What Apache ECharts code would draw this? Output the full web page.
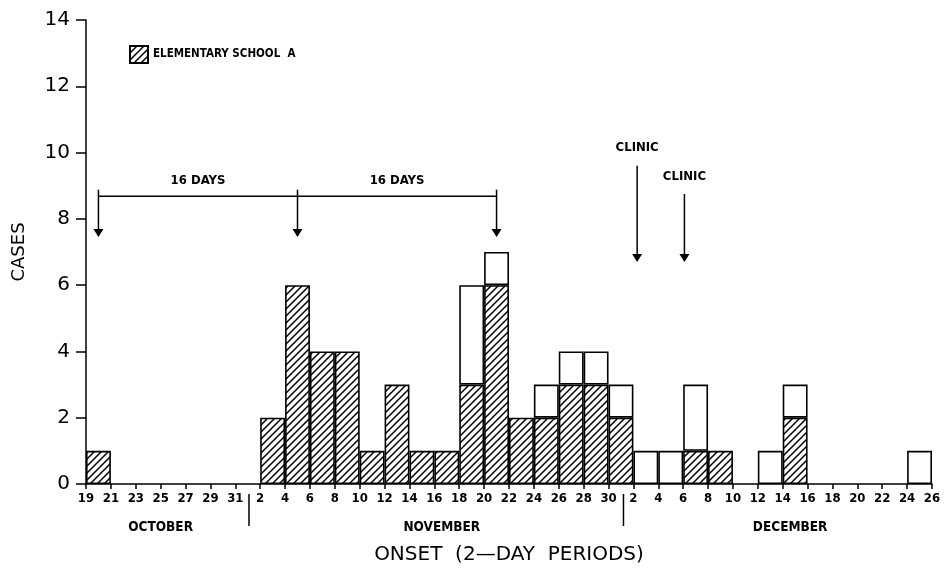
<!DOCTYPE html>
<html>
<head>
<meta charset="utf-8">
<script src="https://cdn.jsdelivr.net/npm/echarts@6/dist/echarts.min.js"></script>
<style>
  html, body { margin: 0; padding: 0; background: #fff; }
  #chart { width: 945px; height: 570px; }
</style>
</head>
<body>
<div id="chart"></div>
<script>
// tick labels sit on the boundaries of the 2-day periods
const tickLabels = ['19', '21', '23', '25', '27', '29', '31',
  '2', '4', '6', '8', '10', '12', '14', '16', '18', '20', '22', '24', '26', '28', '30',
  '2', '4', '6', '8', '10', '12', '14', '16', '18', '20', '22', '24', '26']
// one period per gap between two ticks (34 periods)
const periods = tickLabels.slice(0, -1).map((t, i) => t + '-' + tickLabels[i + 1])
const schoolA = [1, 0, 0, 0, 0, 0, 0, 2, 6, 4, 4, 1, 3, 1, 1, 3, 6, 2, 2, 3, 3, 2,
  0, 0, 1, 1, 0, 0, 2, 0, 0, 0, 0, 0]
const otherCases = [0, 0, 0, 0, 0, 0, 0, 0, 0, 0, 0, 0, 0, 0, 0, 3, 1, 0, 1, 1, 1, 1,
  1, 1, 2, 0, 0, 1, 1, 0, 0, 0, 0, 1]
// annotations in axis units (x = period boundary index, y = cases)
const dayArrows = [0.5, 8.5, 16.5]
const dayLabels = [{ x: 4.5, text: '16 DAYS' }, { x: 12.5, text: '16 DAYS' }]
const clinicArrows = [{ x: 22.15, top: 9.6, label: 10.15 }, { x: 24.05, top: 8.75, label: 9.28 }]
const months = [{ x: 3, text: 'OCTOBER' }, { x: 14.3, text: 'NOVEMBER' }, { x: 28.3, text: 'DECEMBER' }]
const monthDividers = [6.55, 21.6]

const narrow = '"Liberation Sans Narrow", "DejaVu Sans Condensed", "Liberation Sans", sans-serif'

// diagonal hatch
const hatch = document.createElement('canvas')
hatch.width = 7
hatch.height = 7
const hc = hatch.getContext('2d')
hc.fillStyle = '#fff'
hc.fillRect(0, 0, 7, 7)
hc.strokeStyle = '#000'
hc.lineWidth = 1.5
hc.beginPath()
hc.moveTo(0, 7); hc.lineTo(7, 0)
hc.moveTo(-1, 1); hc.lineTo(1, -1)
hc.moveTo(6, 8); hc.lineTo(8, 6)
hc.stroke()

const myChart = echarts.init(document.getElementById('chart'))
const option = {
  animation: false,
  backgroundColor: '#fff',
  grid: { left: 86, right: 13, top: 20, bottom: 84 },
  legend: {
    left: 124,
    top: 40,
    data: ['ELEMENTARY SCHOOL  A'],
    itemWidth: 18,
    itemHeight: 17,
    itemGap: 8,
    icon: 'rect',
    textStyle: { fontFamily: narrow, fontWeight: 'bold', fontSize: 11.5, color: '#000' }
  },
  xAxis: [
    { type: 'category', data: periods, show: false, boundaryGap: true },
    {
      type: 'value', min: 0, max: 34, interval: 1, position: 'bottom',
      axisLine: { show: true, lineStyle: { color: '#000', width: 1.5 } },
      axisTick: { show: true, length: 5, lineStyle: { color: '#000', width: 1.5 } },
      axisLabel: {
        show: true, margin: 8, color: '#000', fontFamily: narrow, fontWeight: 'bold', fontSize: 13,
        formatter: v => tickLabels[v]
      },
      splitLine: { show: false },
      name: 'ONSET  (2—DAY  PERIODS)',
      nameLocation: 'middle',
      nameGap: 61,
      nameTextStyle: { fontFamily: 'DejaVu Sans', fontSize: 20, color: '#000' }
    }
  ],
  yAxis: {
    type: 'value', min: 0, max: 14, interval: 2,
    axisLine: { show: true, lineStyle: { color: '#000', width: 1.5 } },
    axisTick: { show: true, length: 10, lineStyle: { color: '#000', width: 1.5 } },
    axisLabel: { color: '#000', fontFamily: 'DejaVu Sans', fontSize: 20, margin: 16 },
    splitLine: { show: false },
    name: 'CASES',
    nameLocation: 'middle',
    nameGap: 58,
    nameTextStyle: { fontFamily: 'DejaVu Sans', fontSize: 18, color: '#000' }
  },
  series: [
    {
      name: 'ELEMENTARY SCHOOL  A',
      type: 'bar',
      stack: 'total',
      xAxisIndex: 0,
      barCategoryGap: '0%',
      data: schoolA.map(v => v || null),
      itemStyle: { color: { image: hatch, repeat: 'repeat' }, borderColor: '#000', borderWidth: 1.6 }
    },
    {
      name: 'OTHER',
      type: 'bar',
      stack: 'total',
      xAxisIndex: 0,
      barCategoryGap: '0%',
      data: otherCases.map(v => v || null),
      itemStyle: { color: '#fff', borderColor: '#000', borderWidth: 1.6 }
    }
  ]
}
myChart.setOption(option)

// annotations placed through the axes
const px = x => myChart.convertToPixel({ xAxisIndex: 1 }, x)
const py = y => myChart.convertToPixel({ yAxisIndex: 0 }, y)
const base = py(0)
const line = (x1, y1, x2, y2, w) => ({
  type: 'line', shape: { x1, y1, x2, y2 }, style: { stroke: '#000', lineWidth: w || 1.5 }, silent: true
})
const head = (x, y) => ({
  type: 'polygon', shape: { points: [[x - 5, y - 8], [x + 5, y - 8], [x, y]] }, style: { fill: '#000' }, silent: true
})
const text = (x, y, t, size, font) => ({
  type: 'text', x, y, silent: true,
  style: { text: t, fill: '#000', font: 'bold ' + size + 'px ' + (font || narrow), textAlign: 'center', textVerticalAlign: 'middle' }
})
const graphics = []
graphics.push(line(px(dayArrows[0]), py(8.68), px(dayArrows[2]), py(8.68)))
dayArrows.forEach(x => {
  graphics.push(line(px(x), py(8.88), px(x), py(7.5)))
  graphics.push(head(px(x), py(7.45)))
})
dayLabels.forEach(d => graphics.push(text(px(d.x), py(9.15), d.text, 13)))
clinicArrows.forEach(c => {
  graphics.push(line(px(c.x), py(c.top), px(c.x), py(6.75)))
  graphics.push(head(px(c.x), py(6.7)))
  graphics.push(text(px(c.x), py(c.label), 'CLINIC', 13))
})
months.forEach(m => graphics.push(text(px(m.x), base + 43, m.text, 13.5)))
monthDividers.forEach(x => graphics.push(line(px(x), base + 10, px(x), base + 42)))
myChart.setOption({ graphic: graphics })
</script>
</body>
</html>
